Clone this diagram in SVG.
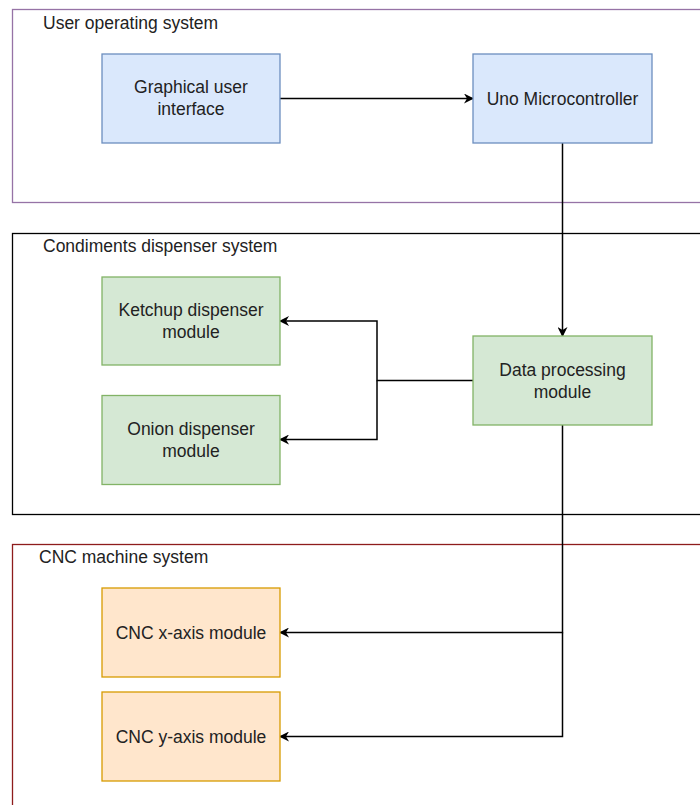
<svg xmlns="http://www.w3.org/2000/svg" width="700" height="805" viewBox="0 0 700 805">
  <defs>
    <marker id="arrow" viewBox="0 0 10 10" refX="9" refY="5" markerWidth="10" markerHeight="10" markerUnits="userSpaceOnUse" orient="auto">
      <path d="M0,0 L10,5 L0,10 L3,5 Z" fill="#000"/>
    </marker>
  </defs>
  <style>
    text { font-family: "Liberation Sans", Arial, sans-serif; font-size: 17.5px; fill: #222; }
    .lbl { text-anchor: middle; dominant-baseline: central; }
    .box { stroke-width: 1.3; }
    .blue { fill: #dae8fc; stroke: #6c8ebf; }
    .green { fill: #d5e8d4; stroke: #82b366; }
    .orange { fill: #ffe6cc; stroke: #d79b00; }
    .container { fill: none; stroke-width: 1.3; }
    .wire { fill: none; stroke: #000; stroke-width: 1.5; }
  </style>

  <rect width="700" height="805" fill="#fff"/>

  <!-- system containers -->
  <g id="user-operating-system">
    <rect class="container" x="12.5" y="9.5" width="700" height="193" stroke="#9673a6"/>
    <text x="43" y="29">User operating system</text>
  </g>
  <g id="condiments-dispenser-system">
    <rect class="container" x="12.5" y="233.5" width="700" height="281" stroke="#000"/>
    <text x="43" y="252">Condiments dispenser system</text>
  </g>
  <g id="cnc-machine-system">
    <rect class="container" x="12.5" y="544.5" width="700" height="280" stroke="#8e1c1c"/>
    <text x="39" y="563">CNC machine system</text>
  </g>

  <!-- connectors -->
  <g id="connectors">
    <path class="wire" d="M280,98.5 H473" marker-end="url(#arrow)"/>
    <path class="wire" d="M562.5,143 V336" marker-end="url(#arrow)"/>
    <path class="wire" d="M473,380.5 H377 V321 H280" marker-end="url(#arrow)"/>
    <path class="wire" d="M377,380.5 V439.5 H280" marker-end="url(#arrow)"/>
    <path class="wire" d="M562.5,425 V632.5 H280" marker-end="url(#arrow)"/>
    <path class="wire" d="M562.5,632.5 V736.5 H280" marker-end="url(#arrow)"/>
  </g>

  <!-- modules -->
  <g id="gui">
    <rect class="box blue" x="102" y="54" width="178" height="89"/>
    <text class="lbl" x="191" y="87">Graphical user</text>
    <text class="lbl" x="191" y="109">interface</text>
  </g>
  <g id="uno">
    <rect class="box blue" x="473" y="54" width="179" height="89"/>
    <text class="lbl" x="562.5" y="98.5">Uno Microcontroller</text>
  </g>
  <g id="ketchup">
    <rect class="box green" x="102" y="277" width="178" height="88"/>
    <text class="lbl" x="191" y="310">Ketchup dispenser</text>
    <text class="lbl" x="191" y="332">module</text>
  </g>
  <g id="onion">
    <rect class="box green" x="102" y="395.5" width="178" height="89"/>
    <text class="lbl" x="191" y="428.5">Onion dispenser</text>
    <text class="lbl" x="191" y="450.5">module</text>
  </g>
  <g id="data-processing">
    <rect class="box green" x="473" y="336" width="179" height="89"/>
    <text class="lbl" x="562.5" y="369.5">Data processing</text>
    <text class="lbl" x="562.5" y="391.5">module</text>
  </g>
  <g id="cnc-x">
    <rect class="box orange" x="102" y="588" width="178" height="89"/>
    <text class="lbl" x="191" y="632.5">CNC x-axis module</text>
  </g>
  <g id="cnc-y">
    <rect class="box orange" x="102" y="692" width="178" height="89"/>
    <text class="lbl" x="191" y="736.5">CNC y-axis module</text>
  </g>
</svg>
